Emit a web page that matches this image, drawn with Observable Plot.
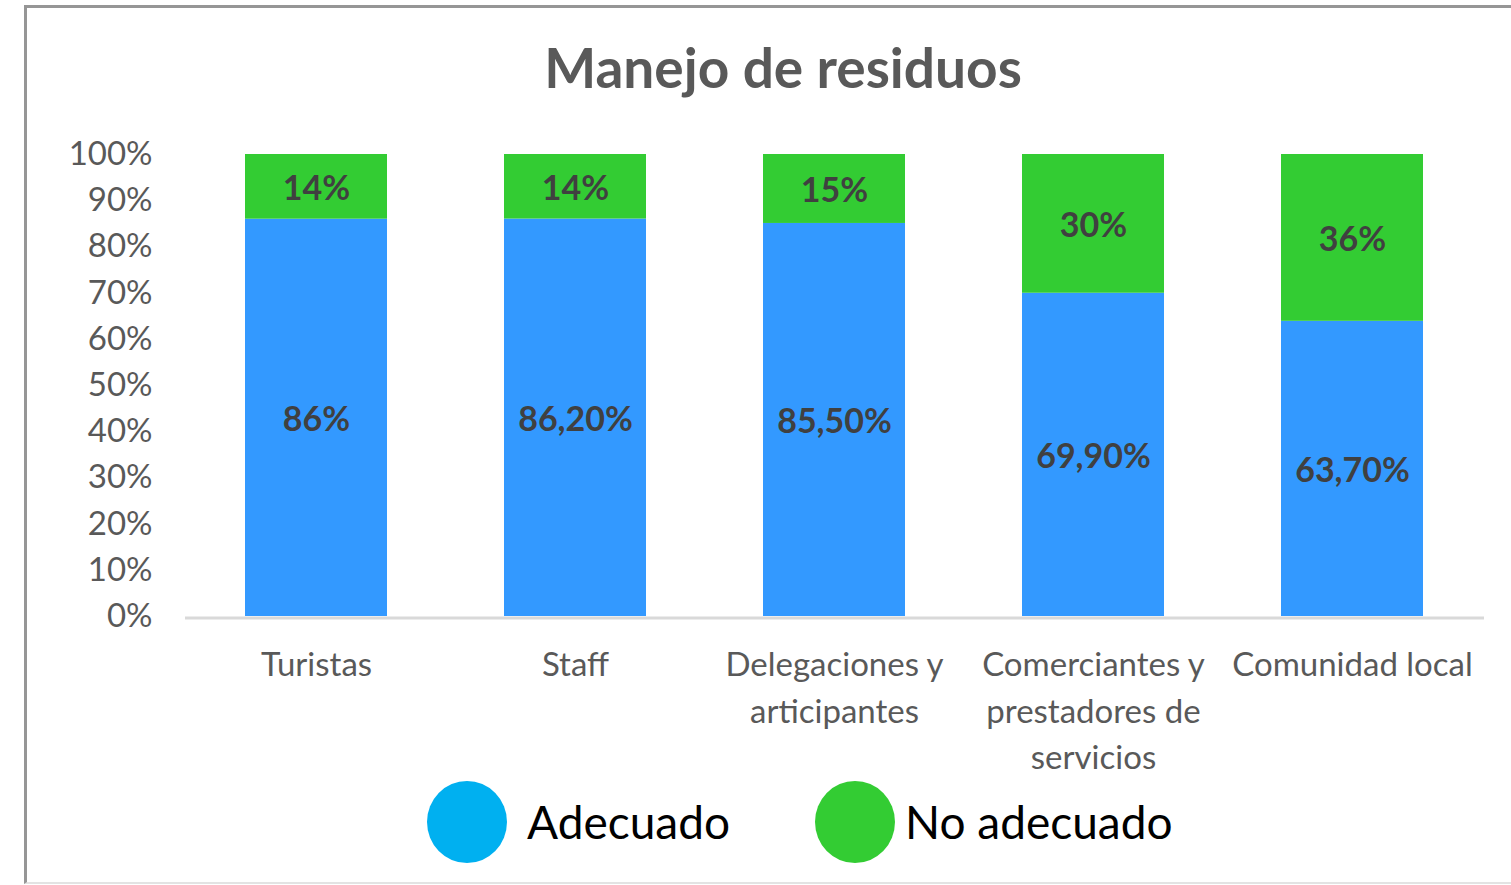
<!DOCTYPE html>
<html>
<head>
<meta charset="utf-8">
<script src="https://cdn.jsdelivr.net/npm/d3@7"></script>
<script src="https://cdn.jsdelivr.net/npm/@observablehq/plot@0.6"></script>
<style>
  html, body { margin: 0; padding: 0; overflow: hidden; background: #fff; width: 1511px; height: 885px; }
  #chart { position: absolute; left: 0; top: 0; }
  #frame { position: absolute; left: 24px; top: 5px; width: 1530px; height: 879px; box-sizing: border-box;
           border: 3px solid #969696; border-bottom: 2px solid #e3e3e3; pointer-events: none; }
  #title { position: absolute; left: 0; width: 1566px; top: 40px; text-align: center;
           font-family: Lato, sans-serif; font-weight: bold; font-size: 55px; line-height: 54px; color: #595959; }
  .sw { position: absolute; top: 781px; width: 80px; height: 82px; border-radius: 50%; }
  .lt { position: absolute; top: 799px; font-family: Lato, sans-serif; font-size: 46px; line-height: 46px; color: #000; white-space: nowrap; }
</style>
</head>
<body>
<div id="chart"></div>
<div id="frame"></div>
<div id="title">Manejo de residuos</div>
<div id="legend"></div>
<script>
const categories = ["Turistas", "Staff", "Delegaciones y\narticipantes", "Comerciantes y\nprestadores de\nservicios", "Comunidad local"];
const series = ["Adecuado", "No adecuado"];
const adecuado = [86, 86.2, 85.5, 69.9, 63.7];
const noAdecuado = [14, 14, 15, 30, 36];
const adecuadoLabels = ["86%", "86,20%", "85,50%", "69,90%", "63,70%"];
const noAdecuadoLabels = ["14%", "14%", "15%", "30%", "36%"];
const colors = ["#3399FF", "#33CC33"];
const legendColors = ["#00B0F0", "#33CC33"];
const yTicks = [0, 0.1, 0.2, 0.3, 0.4, 0.5, 0.6, 0.7, 0.8, 0.9, 1];

const rows = [];
categories.forEach((c, i) => {
  rows.push({cat: c, series: series[0], value: adecuado[i], label: adecuadoLabels[i]});
  rows.push({cat: c, series: series[1], value: noAdecuado[i], label: noAdecuadoLabels[i]});
});

const chart = Plot.plot({
  width: 1511,
  height: 885,
  marginLeft: 185,
  marginRight: 27,
  marginTop: 154,
  marginBottom: 269,
  style: {fontFamily: "Lato, sans-serif", background: "transparent"},
  x: {domain: categories, paddingInner: 0.45, paddingOuter: 0.225, axis: null},
  y: {domain: [0, 1], axis: null},
  color: {domain: series, range: colors},
  marks: [
    Plot.barY(rows, Plot.stackY({offset: "normalize", x: "cat", y: "value", fill: "series"})),
    Plot.ruleY([0], {stroke: "#d9d9d9", strokeWidth: 3, dy: 1.5}),
    Plot.text(rows, Plot.stackY({offset: "normalize", x: "cat", y: "value", z: "series", text: "label",
      fill: "#404040", fontSize: 34, fontWeight: "bold", dy: 2})),
    Plot.axisY({ticks: yTicks, tickFormat: d3.format(".0%"), tickSize: 0, tickPadding: 33,
      fontSize: 33, fill: "#595959", label: null}),
    Plot.axisX({tickSize: 0, tickPadding: 27, fontSize: 33, lineHeight: 1.4, fill: "#595959", label: null})
  ]
});
document.getElementById("chart").appendChild(chart);

const legend = document.getElementById("legend");
const swLeft = [427, 815];
const txtLeft = [527, 905];
series.forEach((s, i) => {
  const sw = document.createElement("div");
  sw.className = "sw";
  sw.style.left = swLeft[i] + "px";
  sw.style.background = legendColors[i];
  legend.appendChild(sw);
  const t = document.createElement("div");
  t.className = "lt";
  t.style.left = txtLeft[i] + "px";
  t.textContent = s;
  legend.appendChild(t);
});
</script>
</body>
</html>
